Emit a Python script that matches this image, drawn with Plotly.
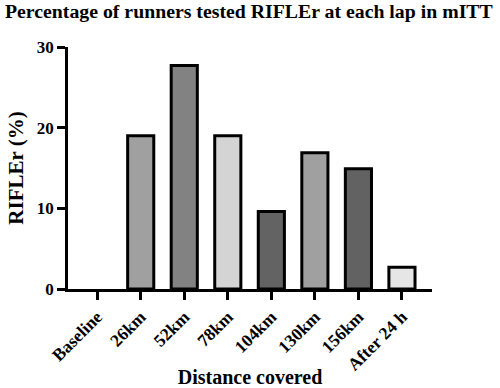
import plotly.graph_objects as go

categories = ["Baseline", "26km", "52km", "78km", "104km", "130km", "156km", "After 24 h"]
values = [0, 19.0, 27.7, 19.0, 9.6, 16.9, 14.9, 2.7]
colors = ["#ffffff", "#a0a0a0", "#828282", "#d4d4d4", "#636363", "#a0a0a0", "#626262", "#e6e6e6"]
border_widths = [0, 3, 3, 3, 3, 3, 3, 3]

FONT = "Liberation Serif"

fig = go.Figure(go.Bar(
    x=categories, y=values,
    marker=dict(color=colors, line=dict(color="black", width=border_widths)),
    width=0.6,
))

fig.update_layout(
    width=500, height=388,
    margin=dict(l=68, r=68, t=47, b=99, autoexpand=False),
    plot_bgcolor="white", paper_bgcolor="white",
    showlegend=False,
    font=dict(family=FONT, color="black"),
    title=dict(text="<b>Percentage of runners tested RIFLEr at each lap in mITT</b>",
               x=0.01, xanchor="left", y=0.99, yanchor="top", automargin=False,
               pad=dict(l=0, t=0),
               font=dict(size=19.8, family=FONT, color="black")),
    xaxis=dict(
        range=[-0.67, 7.69], showline=True, linecolor="black", linewidth=2.5,
        ticks="outside", ticklen=8, tickwidth=2.5, tickcolor="black", automargin=False,
        tickangle=-45, tickfont=dict(size=17.5, family=FONT, color="black", weight="bold"),
        title=dict(text="<b>Distance covered</b>", font=dict(size=20, family=FONT), standoff=6),
        showgrid=False, zeroline=False,
    ),
    yaxis=dict(
        range=[0, 30], tickvals=[0, 10, 20, 30], showline=True, linecolor="black", linewidth=2.5,
        ticks="outside", ticklen=8, tickwidth=2.5, tickcolor="black", automargin=False,
        tickfont=dict(size=17, family=FONT, color="black", weight="bold"),
        title=dict(text="<b>RIFLEr (%)</b>", font=dict(size=21, family=FONT), standoff=8),
        showgrid=False, zeroline=False,
    ),
)

fig.write_html("out.html", config={"displayModeBar": False},
               post_script="document.body.style.margin='0';")
